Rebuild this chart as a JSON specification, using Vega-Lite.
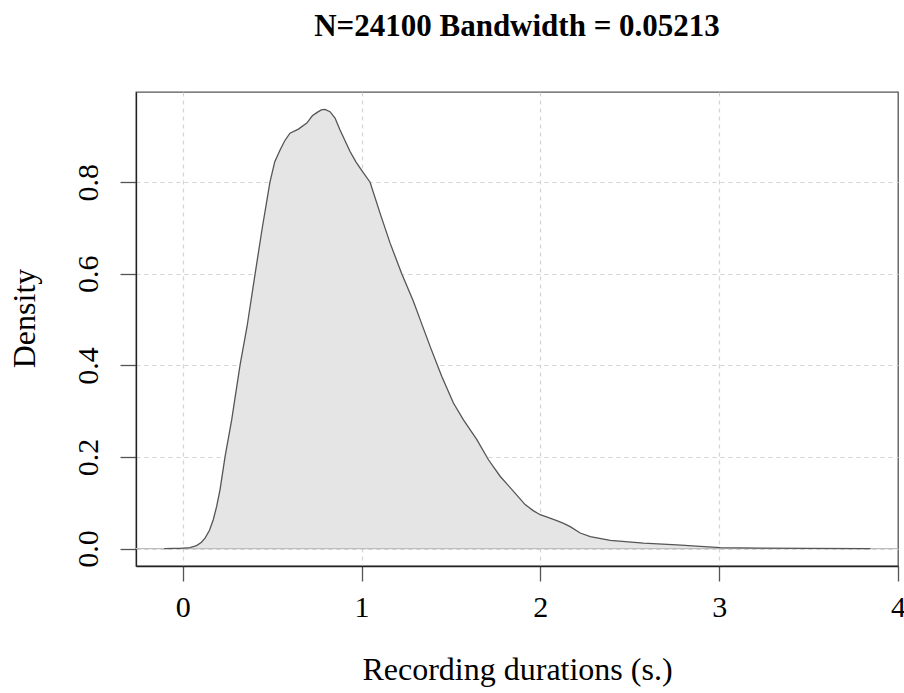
{
  "$schema": "https://vega.github.io/schema/vega-lite/v6.json",
  "width": 762,
  "height": 474,
  "autosize": {"type": "none"},
  "padding": {"left": 136, "top": 92, "right": 6, "bottom": 127},
  "background": "white",
  "config": {"view": {"stroke": "#555", "strokeWidth": 1.3}, "font": "Liberation Serif"},
  "title": {
    "text": "N=24100 Bandwidth = 0.05213",
    "font": "Liberation Serif",
    "fontSize": 31,
    "fontWeight": "bold",
    "color": "black",
    "anchor": "middle",
    "baseline": "alphabetic",
    "offset": 25
  },
  "data": {
    "values": [
      {"x": -0.103, "y": 0.0},
      {"x": -0.05, "y": 0.0003},
      {"x": -0.015, "y": 0.0007},
      {"x": 0.041, "y": 0.002},
      {"x": 0.078, "y": 0.0065},
      {"x": 0.105, "y": 0.014},
      {"x": 0.125, "y": 0.023},
      {"x": 0.15, "y": 0.04},
      {"x": 0.171, "y": 0.063},
      {"x": 0.19, "y": 0.092},
      {"x": 0.209, "y": 0.129},
      {"x": 0.237, "y": 0.201},
      {"x": 0.274, "y": 0.281},
      {"x": 0.321, "y": 0.401},
      {"x": 0.36, "y": 0.485},
      {"x": 0.405, "y": 0.6},
      {"x": 0.445, "y": 0.7},
      {"x": 0.488, "y": 0.8},
      {"x": 0.515, "y": 0.845},
      {"x": 0.544, "y": 0.87},
      {"x": 0.57, "y": 0.89},
      {"x": 0.6, "y": 0.907},
      {"x": 0.647, "y": 0.916},
      {"x": 0.694, "y": 0.929},
      {"x": 0.725, "y": 0.945},
      {"x": 0.75, "y": 0.952},
      {"x": 0.775, "y": 0.958},
      {"x": 0.796, "y": 0.959},
      {"x": 0.824, "y": 0.954},
      {"x": 0.852, "y": 0.94},
      {"x": 0.88, "y": 0.914},
      {"x": 0.936, "y": 0.867},
      {"x": 0.968, "y": 0.845},
      {"x": 1.001, "y": 0.826},
      {"x": 1.048, "y": 0.8},
      {"x": 1.104, "y": 0.732},
      {"x": 1.16, "y": 0.667},
      {"x": 1.225, "y": 0.6},
      {"x": 1.29, "y": 0.54},
      {"x": 1.328, "y": 0.5},
      {"x": 1.384, "y": 0.441},
      {"x": 1.449, "y": 0.376},
      {"x": 1.514, "y": 0.318},
      {"x": 1.57, "y": 0.281},
      {"x": 1.645, "y": 0.238},
      {"x": 1.71, "y": 0.194},
      {"x": 1.775, "y": 0.158},
      {"x": 1.85, "y": 0.125},
      {"x": 1.915, "y": 0.096},
      {"x": 1.96, "y": 0.083},
      {"x": 1.999, "y": 0.074},
      {"x": 2.05, "y": 0.067},
      {"x": 2.092, "y": 0.061},
      {"x": 2.13, "y": 0.055},
      {"x": 2.167, "y": 0.048},
      {"x": 2.223, "y": 0.034},
      {"x": 2.279, "y": 0.026},
      {"x": 2.391, "y": 0.018},
      {"x": 2.577, "y": 0.012},
      {"x": 2.764, "y": 0.008},
      {"x": 2.894, "y": 0.005},
      {"x": 3.006, "y": 0.002},
      {"x": 3.23, "y": 0.001},
      {"x": 3.5, "y": 0.0004},
      {"x": 3.846, "y": 0.0}
    ]
  },
  "encoding": {
    "x": {
      "field": "x",
      "type": "quantitative",
      "scale": {"domain": [-0.261, 4.0], "nice": false, "zero": false},
      "axis": {
        "values": [0, 1, 2, 3, 4],
        "grid": true,
        "gridDash": [4, 4],
        "gridColor": "#d3d3d3",
        "gridWidth": 1.2,
        "gridOpacity": {"condition": {"test": "datum.value >= 4", "value": 0}, "value": 1},
        "domainColor": "#222",
        "domainWidth": 1.3,
        "tickSize": 15,
        "tickColor": "#555",
        "tickWidth": 1.3,
        "labelFont": "Liberation Serif",
        "labelFontSize": 30,
        "labelColor": "black",
        "labelPadding": 11,
        "labelFlush": false,
        "title": "Recording durations (s.)",
        "titleFont": "Liberation Serif",
        "titleFontSize": 32,
        "titleFontWeight": "normal",
        "titleColor": "black",
        "titleBaseline": "alphabetic",
        "titleY": 113
      }
    },
    "y": {
      "field": "y",
      "type": "quantitative",
      "scale": {"domain": [-0.038, 0.997], "nice": false, "zero": false},
      "axis": {
        "values": [0, 0.2, 0.4, 0.6, 0.8],
        "format": ".1f",
        "grid": true,
        "gridDash": [4, 4],
        "gridColor": "#d3d3d3",
        "gridWidth": 1.2,
        "domainColor": "#222",
        "domainWidth": 1.3,
        "tickSize": 16,
        "tickColor": "#555",
        "tickWidth": 1.3,
        "labelFont": "Liberation Serif",
        "labelFontSize": 30,
        "labelColor": "black",
        "labelAngle": -90,
        "labelAlign": "center",
        "labelBaseline": "alphabetic",
        "labelPadding": 23,
        "labelFlush": false,
        "title": "Density",
        "titleFont": "Liberation Serif",
        "titleFontSize": 32,
        "titleFontWeight": "normal",
        "titleColor": "black",
        "titleBaseline": "alphabetic",
        "titleX": -102,
        "titleY": 226
      }
    }
  },
  "layer": [
    {"mark": {"type": "area", "color": "#e5e5e5"}},
    {
      "data": {"values": [{"z": 0}]},
      "mark": {"type": "rule", "color": "#bebebe", "strokeWidth": 1.3},
      "encoding": {"x": null, "y": {"field": "z", "type": "quantitative"}}
    },
    {"mark": {"type": "line", "color": "#555", "strokeWidth": 1.3}}
  ]
}
